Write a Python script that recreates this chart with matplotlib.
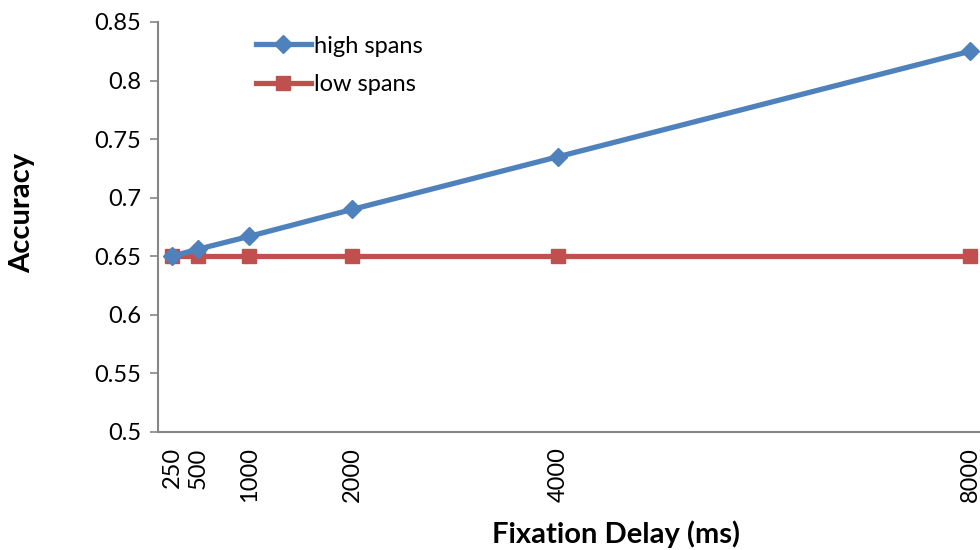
import numpy as np
import matplotlib
matplotlib.use('Agg')
import matplotlib.pyplot as plt

# fixation delay (ms) and mean accuracy per group
delays = [250, 500, 1000, 2000, 4000, 8000]
high_spans = [0.650, 0.656, 0.667, 0.690, 0.735, 0.825]
low_spans = [0.650, 0.650, 0.650, 0.650, 0.650, 0.650]
y_ticks = [0.5, 0.55, 0.6, 0.65, 0.7, 0.75, 0.8, 0.85]
y_labels = ['0.5', '0.55', '0.6', '0.65', '0.7', '0.75', '0.8', '0.85']

plt.rcParams['font.family'] = ['Lato', 'DejaVu Sans']

fig = plt.figure(figsize=(9.8, 5.5), dpi=100)
ax = fig.add_axes([158/980, 118/550, 822/980, 410/550])

ax.plot(delays, high_spans, color='#4F81BD', lw=3.8, marker='D', ms=9,
        label='high spans', clip_on=False, zorder=3)
ax.plot(delays, low_spans, color='#C0504D', lw=3.8, marker='s', ms=10,
        label='low spans', clip_on=False, zorder=2)

ax.set_xlim(114, 8097)
ax.set_ylim(0.5, 0.85)
ax.set_yticks(y_ticks)
ax.set_yticklabels(y_labels, fontsize=17)
ax.set_xticks(delays)
ax.set_xticklabels([str(d) for d in delays], rotation=90, fontsize=17,
                   va='top')
ax.tick_params(axis='x', length=0, pad=11)
ax.tick_params(axis='y', length=6, width=1.2, color='#868686', pad=6)

for s in ['top', 'right']:
    ax.spines[s].set_visible(False)
for s in ['left', 'bottom']:
    ax.spines[s].set_color('#868686')
    ax.spines[s].set_linewidth(1.5)

ax.set_xlabel('Fixation Delay (ms)', fontsize=21, fontweight='bold', va='center')
ax.xaxis.set_label_coords(0.557, -0.25)
ax.set_ylabel('Accuracy', fontsize=21, fontweight='bold', va='center')
ax.yaxis.set_label_coords(-0.165, 0.534)

ax.legend(loc='upper left', bbox_to_anchor=(0.108, 0.99), frameon=False,
          fontsize=17, handlelength=2.3, handletextpad=0.15, labelspacing=0.75,
          borderaxespad=0)

fig.savefig('out.png', dpi=100)
